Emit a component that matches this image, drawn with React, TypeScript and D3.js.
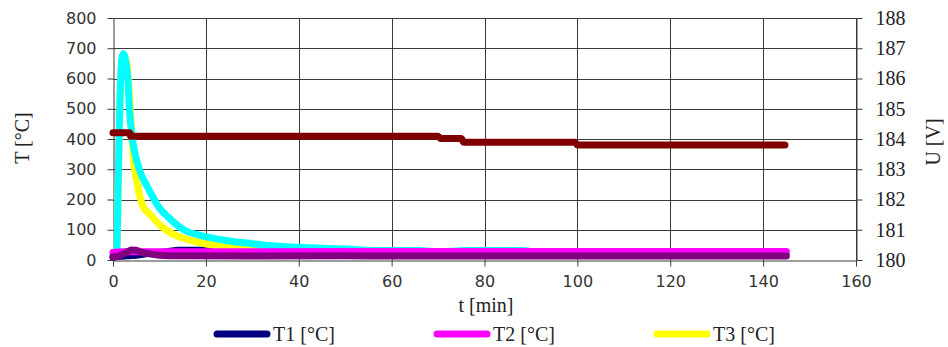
import React, { useEffect, useRef } from 'react';
import * as d3 from 'd3';

// time [min] / value pairs
const t1Time = [0, 3, 5, 8, 12, 14, 21, 24, 44, 46, 50, 53, 145];
const t1Vals = [10, 14, 16, 22, 28, 32, 32, 27, 27, 32, 32, 26, 24];

const t2Time = [0, 2, 10, 60, 145];
const t2Vals = [25, 27, 27, 28, 28];

const t3Time = [0, 0.8, 1.0, 1.3, 1.7, 2.2, 2.7, 3.2, 3.6, 4.0, 4.4, 5.2, 6.5, 8, 10.5, 13, 16, 20, 25, 30, 35, 40, 50, 60, 145];
const t3Vals = [15, 20, 150, 400, 610, 670, 665, 620, 530, 430, 340, 253, 176, 150, 110, 85, 68, 53, 42, 36, 32, 30, 28, 26, 24];

const t4Time = [0, 0.8, 1.0, 1.3, 1.7, 1.9, 2.2, 2.5, 2.9, 3.2, 3.5, 4.2, 5, 6, 7, 8, 10, 12, 15, 20, 25, 30, 35, 40, 50, 58, 66, 70, 76, 88, 92, 145];
const t4Vals = [18, 22, 150, 400, 617, 665, 682, 675, 640, 600, 507, 397, 335, 285, 253, 225, 172, 140, 102, 77, 63, 54, 46, 42, 36, 31, 31, 27, 31, 31, 26, 26];

const t5Time = [0, 1, 2, 3, 4, 5, 6, 8, 10, 15, 30, 50, 60, 145];
const t5Vals = [10, 12, 18, 26, 33, 32, 26, 20, 16, 14, 13, 14, 13, 13];

const uTime = [0, 3.6, 3.8, 70, 70.5, 75, 75.5, 99.5, 100, 144.7];
const uVals = [184.21, 184.21, 184.09, 184.09, 184.02, 184.02, 183.89, 183.89, 183.8, 183.8];

const xTicks = [0, 20, 40, 60, 80, 100, 120, 140, 160];
const yTicks = [0, 100, 200, 300, 400, 500, 600, 700, 800];
const uTicks = [180, 181, 182, 183, 184, 185, 186, 187, 188];

const legendNames = ['T1 [°C]', 'T2 [°C]', 'T3 [°C]'];

const W = 948;
const H = 347;

const App = () => {
  const ref = useRef(null);

  useEffect(() => {
    const svg = d3.select(ref.current);
    svg.selectAll('*').remove();

    const x = d3.scaleLinear().domain([0, 160]).range([113, 856]);
    const y = d3.scaleLinear().domain([0, 800]).range([260, 18]);
    const yU = d3.scaleLinear().domain([180, 188]).range([260, 18]);

    const sans = 'DejaVu Sans, sans-serif';
    const serif = 'Liberation Serif, Times New Roman, serif';
    const gridColor = '#3a3a3a';

    // grid
    const g = svg.append('g');
    yTicks.slice(1).forEach((v) => {
      g.append('line')
        .attr('x1', x(0)).attr('x2', x(160))
        .attr('y1', Math.round(y(v)) + 0.5).attr('y2', Math.round(y(v)) + 0.5)
        .attr('stroke', gridColor).attr('stroke-width', 1);
    });
    xTicks.slice(1).forEach((v) => {
      g.append('line')
        .attr('x1', Math.round(x(v)) + 0.5).attr('x2', Math.round(x(v)) + 0.5)
        .attr('y1', y(800)).attr('y2', y(0))
        .attr('stroke', gridColor).attr('stroke-width', 1);
    });

    // axes
    const left = svg.append('g').attr('transform', `translate(${Math.round(x(0)) + 0.5},0)`)
      .call(d3.axisLeft(y).tickValues(yTicks).tickSize(6).tickSizeOuter(0));
    left.select('.domain').attr('stroke', gridColor);
    left.selectAll('line').attr('stroke', gridColor);
    left.selectAll('text').attr('font-family', sans).attr('font-size', 16).attr('fill', '#333').attr('x', -17);

    const bottom = svg.append('g').attr('transform', `translate(0,${Math.round(y(0)) + 0.5})`)
      .call(d3.axisBottom(x).tickValues(xTicks).tickSize(6).tickSizeOuter(0));
    bottom.select('.domain').attr('stroke', gridColor);
    bottom.selectAll('line').attr('stroke', gridColor);
    bottom.selectAll('text').attr('font-family', sans).attr('font-size', 16).attr('fill', '#333').attr('y', 15);

    const right = svg.append('g').attr('transform', `translate(${Math.round(x(160)) + 0.5},0)`)
      .call(d3.axisRight(yU).tickValues(uTicks).tickSize(6).tickSizeOuter(0));
    right.select('.domain').attr('stroke', gridColor);
    right.selectAll('line').attr('stroke', gridColor);
    right.selectAll('text').attr('font-family', serif).attr('font-size', 20).attr('fill', '#222').attr('x', 19);

    // series
    const mk = (ts, vs) => ts.map((t, i) => [t, vs[i]]);
    const lineT = d3.line().curve(d3.curveMonotoneX).x((d) => x(d[0])).y((d) => y(d[1]));
    const lineU = d3.line().x((d) => x(d[0])).y((d) => yU(d[1]));

    const series = [
      { data: mk(t1Time, t1Vals), color: '#000080', gen: lineT },
      { data: mk(t3Time, t3Vals), color: '#FFFF00', gen: lineT },
      { data: mk(t4Time, t4Vals), color: '#00FFFF', gen: lineT },
      { data: mk(t2Time, t2Vals), color: '#FF00FF', gen: lineT },
      { data: mk(t5Time, t5Vals), color: '#800080', gen: lineT },
      { data: mk(uTime, uVals), color: '#800000', gen: lineU },
    ];
    series.forEach((s) => {
      svg.append('path')
        .attr('d', s.gen(s.data))
        .attr('fill', 'none')
        .attr('stroke', s.color)
        .attr('stroke-width', 7)
        .attr('stroke-linecap', 'round')
        .attr('stroke-linejoin', 'round');
    });

    // titles
    svg.append('text').attr('x', 486).attr('y', 312).attr('text-anchor', 'middle')
      .attr('font-family', serif).attr('font-size', 20).attr('fill', '#222').text('t [min]');
    svg.append('text').attr('transform', 'translate(29,138) rotate(-90)').attr('text-anchor', 'middle')
      .attr('font-family', serif).attr('font-size', 20).attr('fill', '#222').text('T [°C]');
    svg.append('text').attr('transform', 'translate(940,142) rotate(-90)').attr('text-anchor', 'middle')
      .attr('font-family', serif).attr('font-size', 20).attr('fill', '#222').text('U [V]');

    // legend
    const legendColors = ['#000080', '#FF00FF', '#FFFF00'];
    const legendX = [214, 434, 654];
    legendNames.forEach((name, i) => {
      svg.append('line')
        .attr('x1', legendX[i] + 3).attr('x2', legendX[i] + 53)
        .attr('y1', 334).attr('y2', 334)
        .attr('stroke', legendColors[i]).attr('stroke-width', 7).attr('stroke-linecap', 'round');
      svg.append('text').attr('x', legendX[i] + 59).attr('y', 341)
        .attr('font-family', serif).attr('font-size', 20).attr('fill', '#222').text(name);
    });
  }, []);

  return (
    <svg ref={ref} width={W} height={H} style={{ position: 'absolute', left: 0, top: 0, background: '#fff' }} />
  );
};

export default App;
